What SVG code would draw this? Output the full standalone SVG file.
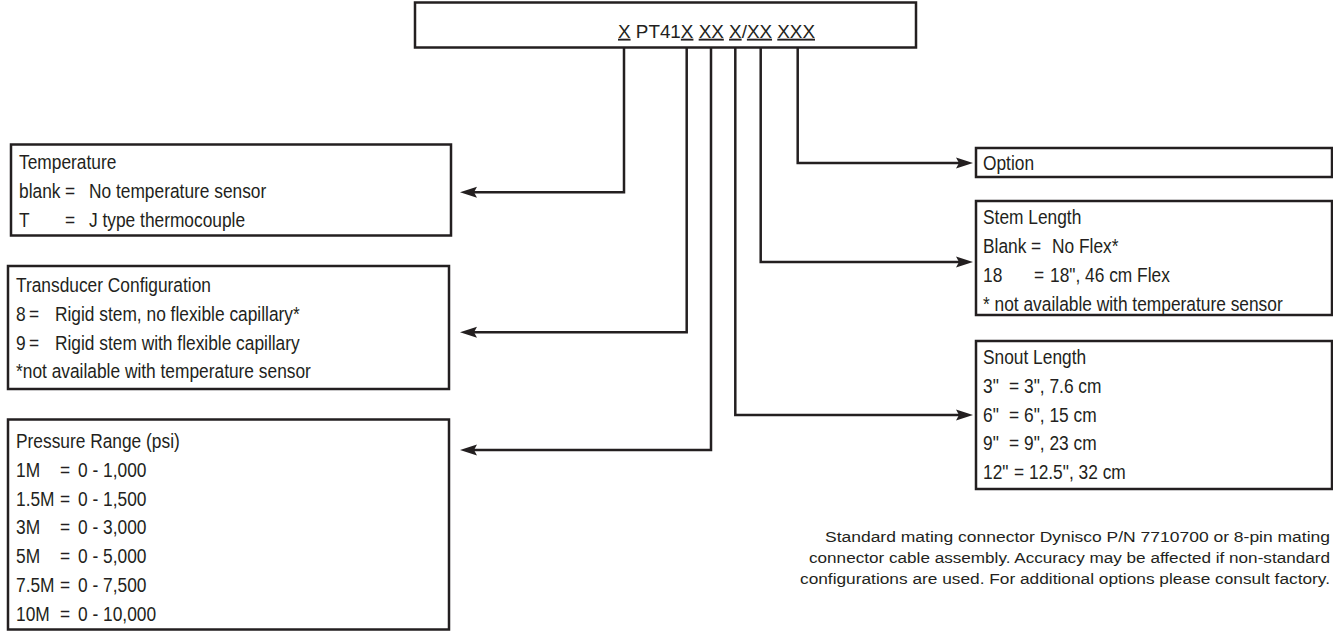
<svg xmlns="http://www.w3.org/2000/svg" width="1333" height="631" viewBox="0 0 1333 631" xml:space="preserve">
<style>
  .box { fill: #ffffff; stroke: #231f20; stroke-width: 2.5; }
  .conn { fill: none; stroke: #231f20; stroke-width: 2.5; }
  .t { font-family: "Liberation Sans", Arial, sans-serif; font-size: 19.5px; fill: #231f20; }
  .top { font-family: "Liberation Sans", Arial, sans-serif; font-size: 19px; fill: #231f20; }
  .foot { font-family: "Liberation Sans", Arial, sans-serif; font-size: 15.5px; fill: #231f20; }
  .u { text-decoration: underline; }
</style>
<defs>
  <marker id="arrow" markerUnits="userSpaceOnUse" markerWidth="17" markerHeight="12" viewBox="0 0 17 12" refX="9" refY="6" orient="auto">
    <path d="M0,0.5 L17,6 L0,11.5 L3,6 Z" fill="#231f20"/>
  </marker>
</defs>
<rect width="1333" height="631" fill="#ffffff"/>

<g id="connectors">
  <path class="conn" d="M624,48 V192.3 H468" marker-end="url(#arrow)"/>
  <path class="conn" d="M686.7,48 V332.3 H468" marker-end="url(#arrow)"/>
  <path class="conn" d="M711,48 V450 H468" marker-end="url(#arrow)"/>
  <path class="conn" d="M735.3,48 V415 H965" marker-end="url(#arrow)"/>
  <path class="conn" d="M760.7,48 V262 H965" marker-end="url(#arrow)"/>
  <path class="conn" d="M797.7,48 V163 H965" marker-end="url(#arrow)"/>
</g>

<g id="model-code">
  <rect class="box" x="415" y="2.5" width="501" height="45"/>
  <text class="top" x="618" y="37.7" textLength="197" lengthAdjust="spacingAndGlyphs"><tspan class="u">X</tspan> PT41<tspan class="u">X</tspan> <tspan class="u">XX</tspan> <tspan class="u">X</tspan>/<tspan class="u">XX</tspan> <tspan class="u">XXX</tspan></text>
</g>

<g id="temperature">
  <rect class="box" x="11" y="144.5" width="440" height="91"/>
  <g transform="scale(0.89 1)">
    <text class="t" x="21.35" y="169">Temperature</text>
    <text class="t" y="198"><tspan x="21.35">blank</tspan><tspan x="73">=</tspan><tspan x="100">No temperature sensor</tspan></text>
    <text class="t" y="227"><tspan x="21.35">T</tspan><tspan x="73">=</tspan><tspan x="100">J type thermocouple</tspan></text>
  </g>
</g>

<g id="transducer-configuration">
  <rect class="box" x="8" y="266" width="441" height="123"/>
  <g transform="scale(0.89 1)">
    <text class="t" x="17.98" y="292">Transducer Configuration</text>
    <text class="t" y="321"><tspan x="17.98">8</tspan><tspan x="32.6">=</tspan><tspan x="61.8">Rigid stem, no flexible capillary*</tspan></text>
    <text class="t" y="350"><tspan x="17.98">9</tspan><tspan x="32.6">=</tspan><tspan x="61.8">Rigid stem with flexible capillary</tspan></text>
    <text class="t" x="17.98" y="378.5">*not available with temperature sensor</text>
  </g>
</g>

<g id="pressure-range">
  <rect class="box" x="8" y="419.5" width="441" height="210"/>
  <g transform="scale(0.89 1)">
    <text class="t" x="17.98" y="448.5">Pressure Range (psi)</text>
    <text class="t" y="477"><tspan x="17.98">1M</tspan><tspan x="67.42">=</tspan><tspan x="87.64">0 - 1,000</tspan></text>
    <text class="t" y="506"><tspan x="17.98">1.5M</tspan><tspan x="67.42">=</tspan><tspan x="87.64">0 - 1,500</tspan></text>
    <text class="t" y="534.5"><tspan x="17.98">3M</tspan><tspan x="67.42">=</tspan><tspan x="87.64">0 - 3,000</tspan></text>
    <text class="t" y="563.5"><tspan x="17.98">5M</tspan><tspan x="67.42">=</tspan><tspan x="87.64">0 - 5,000</tspan></text>
    <text class="t" y="592.5"><tspan x="17.98">7.5M</tspan><tspan x="67.42">=</tspan><tspan x="87.64">0 - 7,500</tspan></text>
    <text class="t" y="621"><tspan x="17.98">10M</tspan><tspan x="67.42">=</tspan><tspan x="87.64">0 - 10,000</tspan></text>
  </g>
</g>

<g id="option">
  <rect class="box" x="976" y="148" width="356" height="29"/>
  <g transform="translate(983 0) scale(0.89 1)">
    <text class="t" x="0" y="170">Option</text>
  </g>
</g>

<g id="stem-length">
  <rect class="box" x="976" y="201" width="356" height="114"/>
  <g transform="translate(983 0) scale(0.89 1)">
    <text class="t" x="0" y="224.5">Stem Length</text>
    <text class="t" y="253"><tspan x="0">Blank</tspan><tspan x="53.9">=</tspan><tspan x="77.5">No Flex*</tspan></text>
    <text class="t" y="282"><tspan x="0">18</tspan><tspan x="57.3">=</tspan><tspan x="75.3">18", 46 cm Flex</tspan></text>
    <text class="t" x="0" y="311">* not available with temperature sensor</text>
  </g>
</g>

<g id="snout-length">
  <rect class="box" x="976" y="341" width="356" height="148"/>
  <g transform="translate(983 0) scale(0.89 1)">
    <text class="t" x="0" y="364">Snout Length</text>
    <text class="t" y="393.5"><tspan x="0">3"</tspan><tspan x="29.2">=</tspan><tspan x="46.1">3", 7.6 cm</tspan></text>
    <text class="t" y="422"><tspan x="0">6"</tspan><tspan x="29.2">=</tspan><tspan x="46.1">6", 15 cm</tspan></text>
    <text class="t" y="450.5"><tspan x="0">9"</tspan><tspan x="29.2">=</tspan><tspan x="46.1">9", 23 cm</tspan></text>
    <text class="t" y="479"><tspan x="0">12"</tspan><tspan x="34.8">=</tspan><tspan x="51.7">12.5", 32 cm</tspan></text>
  </g>
</g>

<g id="footnote">
  <text class="foot" x="825" y="541.5" textLength="505" lengthAdjust="spacingAndGlyphs">Standard mating connector Dynisco P/N 7710700 or 8-pin mating</text>
  <text class="foot" x="809" y="562.5" textLength="521" lengthAdjust="spacingAndGlyphs">connector cable assembly. Accuracy may be affected if non-standard</text>
  <text class="foot" x="800" y="583.5" textLength="530" lengthAdjust="spacingAndGlyphs">configurations are used. For additional options please consult factory.</text>
</g>
</svg>
